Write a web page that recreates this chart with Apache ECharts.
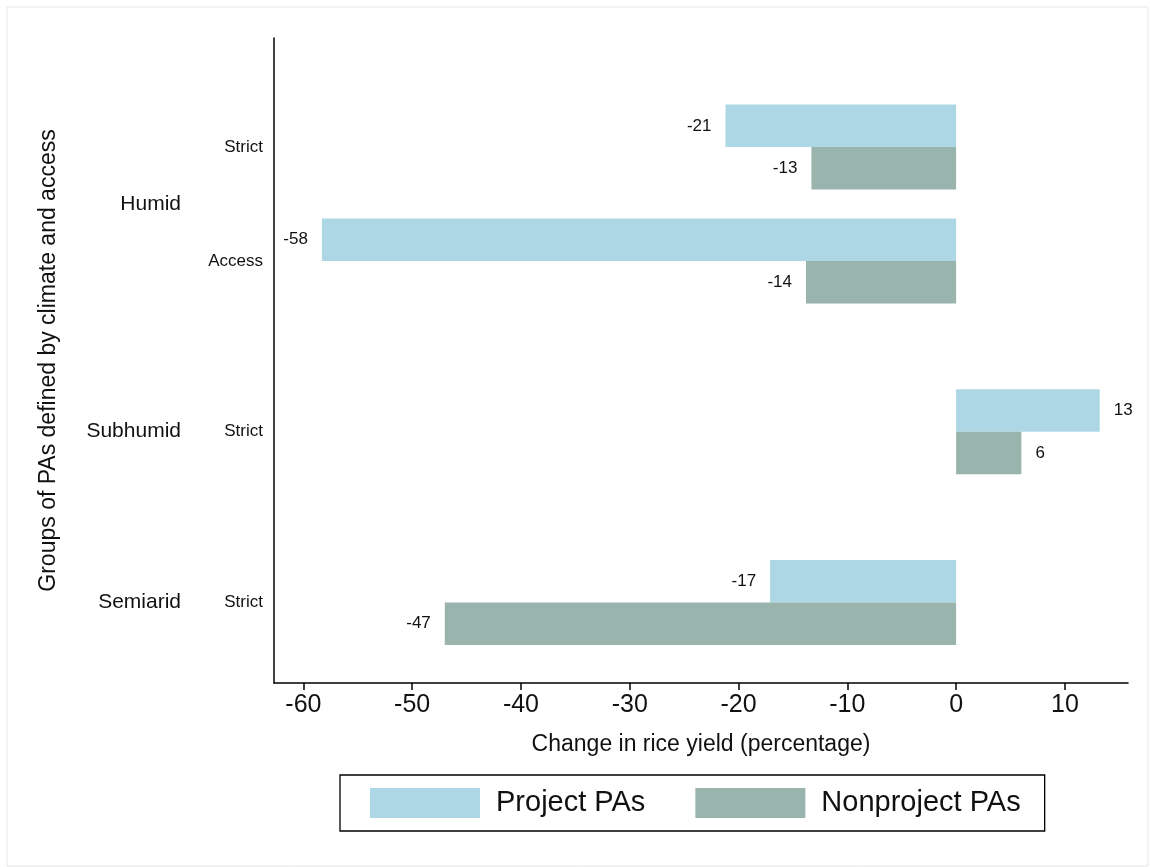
<!DOCTYPE html>
<html><head><meta charset="utf-8">
<script src="https://cdn.jsdelivr.net/npm/echarts@6/dist/echarts.min.js"></script>
<style>html,body{margin:0;padding:0;background:#fff}#c{width:1150px;height:867px}</style>
</head><body><div id="c"></div>
<script>
// ---- data ----
const climates = ['Humid', 'Humid', 'Subhumid', 'Semiarid'];
const accessTypes = ['Strict', 'Access', 'Strict', 'Strict'];
const projectPAs = [-21.2, -58.3, 13.2, -17.1];
const nonprojectPAs = [-13.3, -13.8, 6.0, -47.0];
const seriesNames = ['Project PAs', 'Nonproject PAs'];
const xTicks = [-60, -50, -40, -30, -20, -10, 0, 10];
const xTitle = 'Change in rice yield (percentage)';
const yTitle = 'Groups of PAs defined by climate and access';

// ---- layout (band slots on the category axis) ----
const nSlots = 68;
const rowSlots = [11, 23, 41, 59];
const climateSlots = { Humid: 17, Subhumid: 41, Semiarid: 59 };

const slotKeys = [], rowText = [], climateText = [];
for (let i = 0; i < nSlots; i++) { slotKeys.push('s' + i); rowText.push(''); climateText.push(''); }
rowSlots.forEach((s, k) => { rowText[s] = accessTypes[k]; });
Object.keys(climateSlots).forEach(c => { climateText[climateSlots[c]] = c; });

function buildSeries(vals) {
  const arr = new Array(nSlots).fill('-');
  rowSlots.forEach((s, k) => {
    const v = vals[k];
    arr[s] = { value: v, label: { position: v < 0 ? 'left' : 'right' } };
  });
  return arr;
}

const colors = ['#add7e4', '#98b4ad'];
const FONT = '"Liberation Sans", Arial, Helvetica, sans-serif';
const TXT = '#111';
const labelFmt = p => String(Math.round(p.value));

const chart = echarts.init(document.getElementById('c'), null, { renderer: 'canvas' });
chart.setOption({
  animation: false,
  backgroundColor: '#fff',
  textStyle: { fontFamily: FONT },
  graphic: [{
    type: 'rect', silent: true,
    shape: { x: 7, y: 7, width: 1141, height: 859 },
    style: { fill: 'none', stroke: '#e6e6e6', lineWidth: 1 }
  }],
  grid: { left: 274, right: 22, top: 38, bottom: 184, containLabel: false, outerBoundsMode: 'none' },
  legend: {
    left: 340, top: 775,
    data: seriesNames,
    orient: 'horizontal',
    itemWidth: 110, itemHeight: 30, itemGap: 50,
    padding: [13, 24, 13, 30],
    borderColor: '#000', borderWidth: 1.3,
    icon: 'rect',
    textStyle: { fontSize: 29, color: TXT, fontFamily: FONT, padding: [0, 0, 0, 11] },
    selectedMode: false
  },
  xAxis: {
    type: 'value', min: -62.7, max: 15.8,
    axisLine: { show: true, onZero: false, lineStyle: { color: '#000', width: 1.5 } },
    axisTick: { show: true, length: 7, customValues: xTicks, lineStyle: { color: '#000', width: 1.5 } },
    axisLabel: { customValues: xTicks, fontSize: 25, color: TXT, margin: 10, fontFamily: FONT },
    splitLine: { show: false },
    name: xTitle, nameLocation: 'middle', nameGap: 50,
    nameTextStyle: { fontSize: 23, color: TXT, fontFamily: FONT }
  },
  yAxis: [{
    type: 'category', data: slotKeys, inverse: true,
    axisLine: { show: true, onZero: false, lineStyle: { color: '#000', width: 1.5 } },
    axisTick: { show: false },
    axisLabel: { interval: 0, formatter: (v, i) => rowText[i], fontSize: 17, color: TXT, margin: 11, fontFamily: FONT },
    splitLine: { show: false },
    name: yTitle, nameLocation: 'middle', nameRotate: 90, nameGap: 214,
    nameTextStyle: { fontSize: 23, color: TXT, fontFamily: FONT }
  }, {
    type: 'category', data: slotKeys, inverse: true, position: 'left', offset: 0,
    axisLine: { show: false, onZero: false }, axisTick: { show: false },
    axisLabel: { interval: 0, formatter: (v, i) => climateText[i], fontSize: 21, color: TXT, margin: 93, fontFamily: FONT },
    splitLine: { show: false }
  }],
  series: [{
    name: seriesNames[0], type: 'bar', yAxisIndex: 0,
    data: buildSeries(projectPAs),
    barWidth: 42.5, barGap: '0%',
    itemStyle: { color: colors[0] },
    label: { show: true, distance: 14, fontSize: 17, color: TXT, fontFamily: FONT, formatter: labelFmt },
    silent: true
  }, {
    name: seriesNames[1], type: 'bar', yAxisIndex: 0,
    data: buildSeries(nonprojectPAs),
    barWidth: 42.5, barGap: '0%',
    itemStyle: { color: colors[1] },
    label: { show: true, distance: 14, fontSize: 17, color: TXT, fontFamily: FONT, formatter: labelFmt },
    silent: true
  }]
});
</script></body></html>
